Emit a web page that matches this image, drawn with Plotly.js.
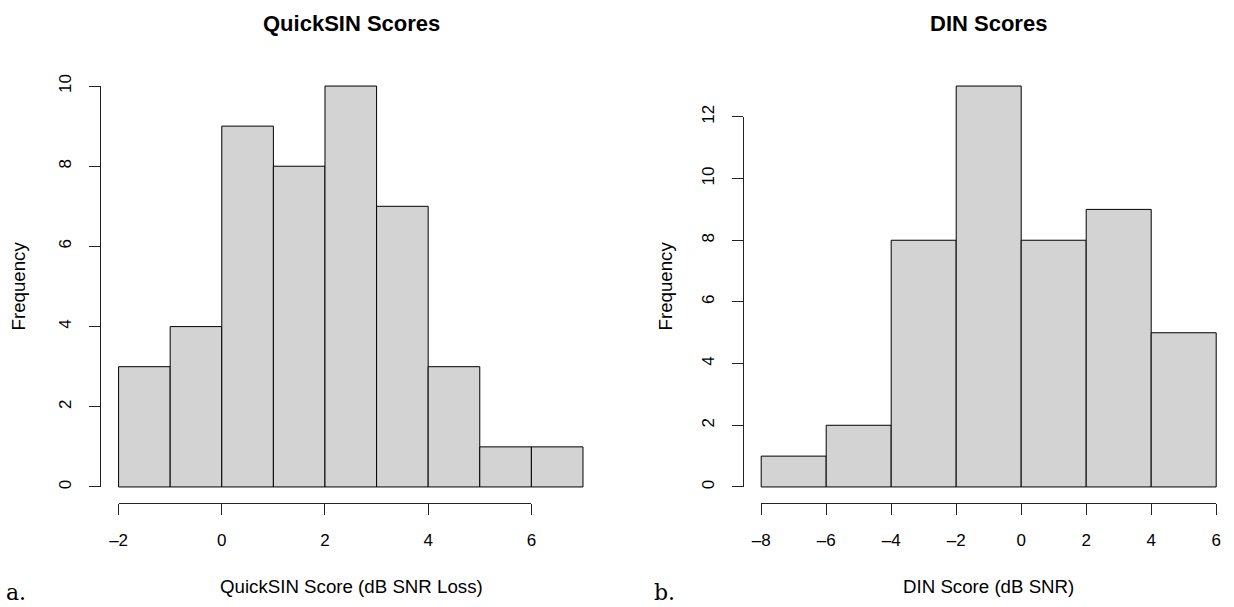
<!DOCTYPE html>
<html>
<head>
<meta charset="utf-8">
<script src="https://cdn.plot.ly/plotly-3.0.1.min.js"></script>
<style>html,body{margin:0;padding:0;background:#fff}#chart{width:1234px;height:607px}</style>
</head>
<body>
<div id="chart"></div>
<script>
// ---- data ----
const qsEdges  = [-2, -1, 0, 1, 2, 3, 4, 5, 6, 7];
const qsCounts = [3, 4, 9, 8, 10, 7, 3, 1, 1];
const qsXTicks = [-2, 0, 2, 4, 6];
const qsYTicks = [0, 2, 4, 6, 8, 10];

const dinEdges  = [-8, -6, -4, -2, 0, 2, 4, 6];
const dinCounts = [1, 2, 8, 13, 8, 9, 5];
const dinXTicks = [-8, -6, -4, -2, 0, 2, 4, 6];
const dinYTicks = [0, 2, 4, 6, 8, 10, 12];

const titles  = ['QuickSIN Scores', 'DIN Scores'];
const xTitles = ['QuickSIN Score (dB SNR Loss)', 'DIN Score (dB SNR)'];
const yTitle  = 'Frequency';
const panelTags = ['a.', 'b.'];

// ---- layout geometry (pixels) ----
const W = 1234, H = 607;
const FONT = 'Liberation Sans, Arial, Helvetica, sans-serif';
const plotTop = 70, plotBot = 503;
const panels = [
  {edges: qsEdges, counts: qsCounts, xt: qsXTicks, yt: qsYTicks, pxL: 100, unit: 51.6, visR: 601, cx: 351, ylabX: 18, tagX: 16},
  {edges: dinEdges, counts: dinCounts, xt: dinXTicks, yt: dinYTicks, pxL: 743, unit: 32.5, visR: 1234, cx: 988, ylabX: 665, tagX: 664}
];

const data = [];
const layout = {
  width: W, height: H,
  margin: {l: 0, r: 0, t: 0, b: 0, pad: 0},
  paper_bgcolor: '#fff', plot_bgcolor: 'rgba(0,0,0,0)',
  showlegend: false, bargap: 0,
  font: {family: FONT, color: '#000'},
  annotations: [], shapes: []
};

const yDom = [(H - plotBot) / H, (H - plotTop) / H];

panels.forEach((p, i) => {
  const e = p.edges;
  const dataMin = e[0], dataMax = e[e.length - 1];
  const span = dataMax - dataMin;
  const xr0 = dataMin - 0.04 * span;
  const xr1 = xr0 + (p.visR - p.pxL) / p.unit;
  const xDom = [p.pxL / W, p.visR / W];
  const cMax = Math.max(...p.counts);
  const yr = [-0.04 * cMax, cMax * 1.04];

  const centers = p.counts.map((c, k) => (e[k] + e[k + 1]) / 2);
  const widths = p.counts.map((c, k) => e[k + 1] - e[k]);

  const mx = 'x' + (i * 2 + 1), my = 'y' + (i * 2 + 1);
  const tx = 'x' + (i * 2 + 2), ty = 'y' + (i * 2 + 2);
  const key = s => s.replace('x', 'xaxis').replace('y', 'yaxis').replace(/axis1$/, 'axis');

  data.push({
    type: 'bar', x: centers, y: p.counts, width: widths,
    xaxis: mx, yaxis: my,
    marker: {color: '#D3D3D3', line: {color: '#000', width: 1}},
    hoverinfo: 'x+y'
  });
  data.push({type: 'scatter', mode: 'markers', x: [], y: [], xaxis: tx, yaxis: ty, hoverinfo: 'skip'});

  const hidden = {showgrid: false, zeroline: false, showline: false, showticklabels: false, ticks: '', fixedrange: true};
  layout[key(mx)] = Object.assign({domain: xDom, range: [xr0, xr1], anchor: my}, hidden);
  layout[key(my)] = Object.assign({domain: yDom, range: yr, anchor: mx}, hidden);

  // tick axes: span exactly the tick range, like R's axis()
  const fx = v => xDom[0] + (v - xr0) / (xr1 - xr0) * (xDom[1] - xDom[0]);
  const fy = v => yDom[0] + (v - yr[0]) / (yr[1] - yr[0]) * (yDom[1] - yDom[0]);
  const xt0 = p.xt[0], xt1 = p.xt[p.xt.length - 1];
  const yt0 = p.yt[0], yt1 = p.yt[p.yt.length - 1];
  const eps = 1e-4;
  const tickCommon = {
    showgrid: false, zeroline: false, showline: true, linecolor: '#222', linewidth: 1,
    ticks: 'outside', ticklen: 11, tickwidth: 1, tickcolor: '#222',
    tickfont: {family: FONT, size: 17, color: '#000'}, fixedrange: true, anchor: 'free'
  };
  layout[key(tx)] = Object.assign({}, tickCommon, {
    domain: [fx(xt0), fx(xt1)], range: [xt0 - eps, xt1 + eps],
    tickvals: p.xt, ticktext: p.xt.map(v => v < 0 ? '\u2013' + Math.abs(v) : String(v)),
    position: yDom[0], ticklabelstandoff: 11
  });
  layout[key(ty)] = Object.assign({}, tickCommon, {
    domain: [fy(yt0), fy(yt1)], range: [yt0 - eps, yt1 + eps],
    tickvals: p.yt, ticktext: p.yt.map(String), tickangle: -90,
    position: xDom[0], ticklabelstandoff: 11
  });

  const ann = (text, px, py, extra) => layout.annotations.push(Object.assign({
    text, xref: 'paper', yref: 'paper', x: px / W, y: 1 - py / H,
    xanchor: 'center', yanchor: 'middle', showarrow: false,
    font: {family: FONT, size: 18.7, color: '#000'}
  }, extra || {}));
  ann('<b>' + titles[i] + '</b>', p.cx, 23, {font: {family: FONT, size: 22, color: '#000'}});
  ann(xTitles[i], p.cx, 586);
  ann(yTitle, p.ylabX, (plotTop + plotBot) / 2, {textangle: -90});
  ann(panelTags[i], p.tagX, 592, {font: {family: 'DejaVu Serif, Liberation Serif, serif', size: 22, color: '#000'}});
});

Plotly.newPlot('chart', data, layout, {staticPlot: true, displayModeBar: false});
</script>
</body>
</html>
